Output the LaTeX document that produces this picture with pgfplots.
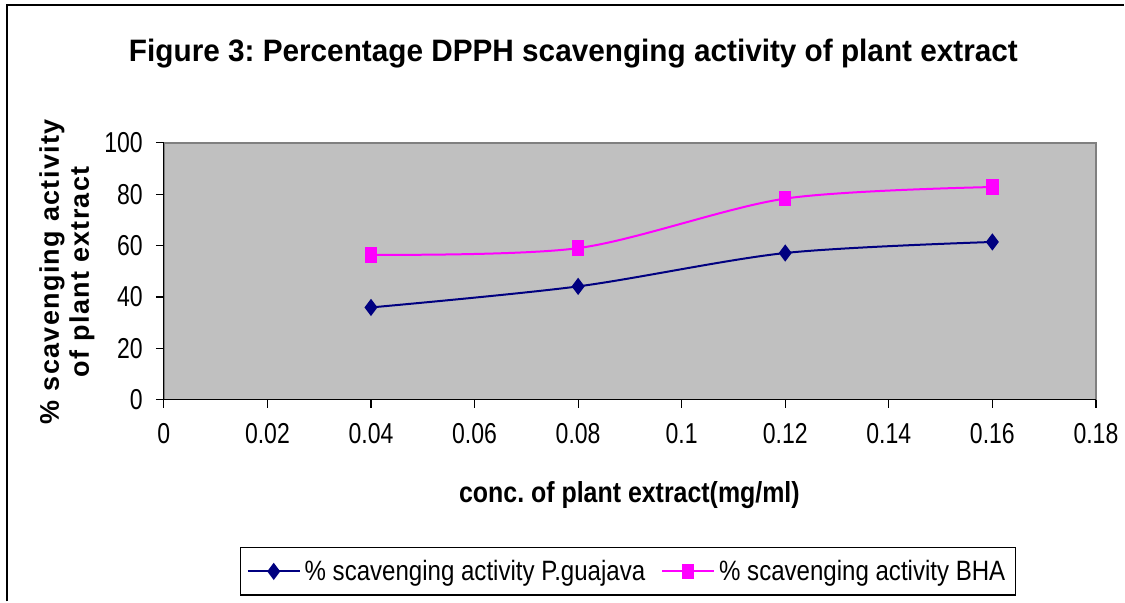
\documentclass[border=0pt]{standalone}
\usepackage{fontspec}
\setmainfont{Liberation Sans}
\newfontfamily\spaced[LetterSpace=5]{Liberation Sans}
\newfontfamily\tickfont[FakeStretch=0.8]{Liberation Sans}
\newfontfamily\labfont[FakeStretch=0.86]{Liberation Sans}
\newfontfamily\titlefont[FakeStretch=0.96]{Liberation Sans}
\usepackage{pgfplots}
\pgfplotsset{compat=1.18}
\definecolor{plotgray}{HTML}{C0C0C0}
\definecolor{bordergray}{HTML}{808080}
\definecolor{navy}{HTML}{000080}
\definecolor{magenta}{HTML}{FF00FF}
\begin{document}
\frenchspacing
\begin{tikzpicture}
\path (0,0) rectangle (562.5pt,-301pt);
\draw[black, line width=0.6pt] (3.5pt,-301pt) -- (3.5pt,-2.5pt) -- (562.5pt,-2.5pt);
\node[anchor=base, font=\fontsize{15.5}{18}\titlefont\bfseries] at (287pt,-31pt) {Figure 3: Percentage DPPH scavenging activity of plant extract};
\begin{axis}[
  at={(82pt,-200pt)}, anchor=south west,
  scale only axis, width=466.5pt, height=128.5pt,
  xmin=0, xmax=0.18, ymin=0, ymax=100,
  axis x line*=bottom, axis y line*=left,
  axis line style={black, -, line width=0.6pt},
  axis background/.style={fill=plotgray, draw=bordergray, line width=0.8pt},
  xtick={0,0.02,0.04,0.06,0.08,0.1,0.12,0.14,0.16,0.18},
  xticklabels={0,0.02,0.04,0.06,0.08,0.1,0.12,0.14,0.16,0.18},
  ytick={0,20,40,60,80,100},
  yticklabels={0,20,40,60,80,100},
  tick align=outside, major tick length=4pt,
  tick style={black, line width=0.6pt},
  ticklabel style={font=\fontsize{14.4}{16}\tickfont},
  xticklabel style={yshift=-4.5pt},
  yticklabel style={xshift=-3pt},
  xlabel={conc. of plant extract(mg/ml)},
  xlabel style={at={(axis description cs:0.4995,-0.402)}, anchor=base, font=\fontsize{14.5}{16}\labfont\bfseries},
  ylabel={\% scavenging activity\\of plant extract},
  ylabel style={at={(axis description cs:-0.104,0.498)}, anchor=center, align=center, font=\fontsize{13.5}{15}\spaced\bfseries},
  legend columns=2,
  legend style={at={(axis description cs:0.498,-0.669)}, anchor=center, draw=black, line width=0.6pt,
    font=\fontsize{14}{15}\labfont, inner xsep=3pt, inner ysep=4pt,
    /tikz/every even column/.append style={column sep=6pt}},
  legend cell align=left,
  legend image code/.code={\draw[mark repeat=2,mark phase=2] plot coordinates {(0pt,0pt) (13pt,0pt) (26pt,0pt)};},
]
\addplot[navy, line width=1pt, smooth, tension=0.5, mark=diamond*, mark size=3.5pt, mark options={solid, fill=navy}]
  coordinates {(0.04,35.9) (0.08,44.1) (0.12,57.1) (0.16,61.4)};
\addlegendentry{\% scavenging activity P.guajava}
\addplot[magenta, line width=1pt, smooth, tension=0.5, mark=square*, mark size=2.6pt, mark options={solid, fill=magenta, yscale=1.3}]
  coordinates {(0.04,56.4) (0.08,59.0) (0.12,78.3) (0.16,82.8)};
\addlegendentry{\% scavenging activity BHA}
\end{axis}
\end{tikzpicture}
\end{document}
